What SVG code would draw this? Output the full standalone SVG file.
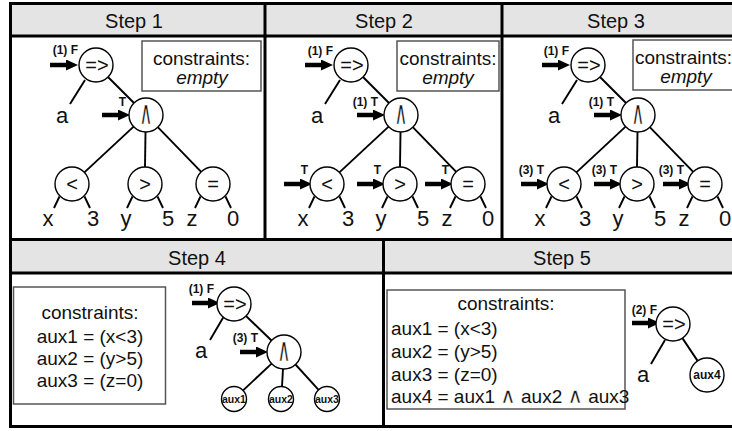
<svg xmlns="http://www.w3.org/2000/svg" width="732" height="431" viewBox="0 0 732 431">
<style>
text{font-family:"Liberation Sans",Arial,Helvetica,sans-serif;fill:#111}
.hdr{font-size:20px;text-anchor:middle}
.ctext{font-size:19px}
.mid{text-anchor:middle}
.it{font-style:italic}
.leaf{font-size:22px;text-anchor:middle}
.lbl{font-size:12px;font-weight:bold;text-anchor:end}
.sym{font-size:20px;text-anchor:middle}
.and{font-size:22px;text-anchor:middle;font-family:"DejaVu Sans","Liberation Sans",sans-serif;stroke:#fff;stroke-width:0.3}
.andi{font-family:"DejaVu Sans","Liberation Sans",sans-serif;font-size:21px;stroke:#fff;stroke-width:0.3}
.aux{font-size:10.5px;font-weight:bold;text-anchor:middle}
.node circle{fill:#fff;stroke:#000;stroke-width:1.4}
.edge{stroke:#000;stroke-width:1.9;fill:none}
.arr{stroke:#000;stroke-width:4.5;fill:none;marker-end:url(#ah)}
.box{fill:#fff;stroke:#555;stroke-width:1.5}
.frame{stroke:#000;stroke-width:3;fill:none}
.hfill{fill:#e4e4e4}
</style>
<defs>
<marker id="ah" markerUnits="userSpaceOnUse" markerWidth="12" markerHeight="11" refX="1" refY="5.5" orient="auto">
<path d="M0,0 L12,5.5 L0,11 z" fill="#000"/>
</marker>
</defs>

<!-- frame -->
<rect class="hfill" x="10" y="3.5" width="730" height="32.5"/>
<rect class="hfill" x="10" y="239.5" width="730" height="33.5"/>
<g class="frame">
<path d="M9,3.5 H740"/>
<path d="M10.5,2 V428"/>
<path d="M9,426.5 H740"/>
<path d="M10,36 H740"/>
<path d="M10,239.5 H740"/>
<path d="M10,273 H740"/>
<path d="M265,3.5 V239.5"/>
<path d="M502,3.5 V239.5"/>
<path d="M383.5,239.5 V426.5"/>
</g>
<text class="hdr" x="134" y="28">Step 1</text>
<text class="hdr" x="384" y="28">Step 2</text>
<text class="hdr" x="616" y="28">Step 3</text>
<text class="hdr" x="197" y="265">Step 4</text>
<text class="hdr" x="562" y="265">Step 5</text>

<!-- constraint boxes -->
<g id="c1">
<rect class="box" x="142" y="41" width="119" height="50"/>
<text class="ctext mid" x="201.5" y="65">constraints:</text>
<text class="ctext mid it" x="202" y="84">empty</text>
</g>
<g id="c2">
<rect class="box" x="397" y="41" width="102" height="50"/>
<text class="ctext mid" x="448" y="65">constraints:</text>
<text class="ctext mid it" x="448" y="84">empty</text>
</g>
<g id="c3">
<rect class="box" x="633" y="40" width="108" height="50"/>
<text class="ctext mid" x="683.5" y="64">constraints:</text>
<text class="ctext mid it" x="686" y="83">empty</text>
</g>
<g id="c4">
<rect class="box" x="13.5" y="287" width="152" height="117"/>
<text class="ctext mid" x="90" y="319">constraints:</text>
<text class="ctext mid" x="90" y="343">aux1 = (x&lt;3)</text>
<text class="ctext mid" x="90" y="365">aux2 = (y&gt;5)</text>
<text class="ctext mid" x="90" y="387">aux3 = (z=0)</text>
</g>
<g id="c5">
<rect class="box" x="387" y="290" width="238" height="119"/>
<text class="ctext mid" x="506" y="310">constraints:</text>
<text class="ctext" x="391" y="335">aux1 = (x&lt;3)</text>
<text class="ctext" x="391" y="358">aux2 = (y&gt;5)</text>
<text class="ctext" x="391" y="381">aux3 = (z=0)</text>
<text class="ctext" x="391" y="403">aux4 = aux1 <tspan class="andi">∧</tspan> aux2 <tspan class="andi">∧</tspan> aux3</text>
</g>

<!-- connectors -->
<g id="connectors">
<g id="edges-s1">
<path class="edge" d="M85,80 L70,104"/>
<path class="edge" d="M108,77 L134,103"/>
<path class="edge" d="M133.6,126.6 L84.4,172.4"/>
<path class="edge" d="M145.5,132 L145,167"/>
<path class="edge" d="M157.8,127.2 L201.2,171.8"/>
<path class="edge" d="M59.5,196.5 L54,208 M84.5,196.5 L90,208"/>
<path class="edge" d="M132.5,196.5 L127,208 M157.5,196.5 L163,208"/>
<path class="edge" d="M200.5,196.5 L195,208 M225.5,196.5 L231,208"/>
</g>
<g id="edges-s2" transform="translate(255,0)">
<path class="edge" d="M85,80 L70,104"/>
<path class="edge" d="M108,77 L134,103"/>
<path class="edge" d="M133.6,126.6 L84.4,172.4"/>
<path class="edge" d="M145.5,132 L145,167"/>
<path class="edge" d="M157.8,127.2 L201.2,171.8"/>
<path class="edge" d="M59.5,196.5 L54,208 M84.5,196.5 L90,208"/>
<path class="edge" d="M132.5,196.5 L127,208 M157.5,196.5 L163,208"/>
<path class="edge" d="M200.5,196.5 L195,208 M225.5,196.5 L231,208"/>
</g>
<g id="edges-s3" transform="translate(492,0)">
<path class="edge" d="M85,80 L70,104"/>
<path class="edge" d="M108,77 L134,103"/>
<path class="edge" d="M133.6,126.6 L84.4,172.4"/>
<path class="edge" d="M145.5,132 L145,167"/>
<path class="edge" d="M157.8,127.2 L201.2,171.8"/>
<path class="edge" d="M59.5,196.5 L54,208 M84.5,196.5 L90,208"/>
<path class="edge" d="M132.5,196.5 L127,208 M157.5,196.5 L163,208"/>
<path class="edge" d="M200.5,196.5 L195,208 M225.5,196.5 L231,208"/>
</g>
<g id="edges-s4">
<path class="edge" d="M223.5,317 L210,340"/>
<path class="edge" d="M246,316 L272,341"/>
<path class="edge" d="M271.6,363.6 L243.1,390.4"/>
<path class="edge" d="M283,369 L282,386.5"/>
<path class="edge" d="M295.5,364.5 L318.6,389.8"/>
</g>
<g id="edges-s5">
<path class="edge" d="M665,340 L651,364"/>
<path class="edge" d="M682.4,338.1 L697.6,360.9"/>
</g>
<g id="arrows">
<path class="arr" d="M50,65 H67"/>
<path class="arr" d="M102,115 H119"/>
<path class="arr" d="M305,65 H322"/>
<path class="arr" d="M357,115 H374"/>
<path class="arr" d="M284,184 H301"/>
<path class="arr" d="M357,184 H374"/>
<path class="arr" d="M425,184 H442"/>
<path class="arr" d="M542,65 H559"/>
<path class="arr" d="M594,115 H611"/>
<path class="arr" d="M521,184 H538"/>
<path class="arr" d="M594,184 H611"/>
<path class="arr" d="M663,184 H680"/>
<path class="arr" d="M192,303 H209"/>
<path class="arr" d="M240,352 H257"/>
<path class="arr" d="M632,323 H649"/>
</g>
</g>

<!-- Step 1 nodes -->
<g id="s1-imp" class="node"><circle cx="96" cy="65" r="17"/><text class="sym" x="97" y="72">=&gt;</text><text class="lbl" x="78" y="54">(1) F</text></g>
<g id="s1-a" class="node"><text class="leaf" x="62" y="123">a</text></g>
<g id="s1-and" class="node"><circle cx="146" cy="115" r="17"/><text class="and" transform="translate(146,123.5) scale(0.8,1.5)">∧</text><text class="lbl" x="126" y="106">T</text></g>
<g id="s1-lt" class="node"><circle cx="72" cy="184" r="17"/><text class="sym" x="72" y="191">&lt;</text><text class="leaf" x="48" y="226">x</text><text class="leaf" x="93" y="226">3</text></g>
<g id="s1-gt" class="node"><circle cx="145" cy="184" r="17"/><text class="sym" x="145" y="191">&gt;</text><text class="leaf" x="126" y="226">y</text><text class="leaf" x="168" y="226">5</text></g>
<g id="s1-eq" class="node"><circle cx="213" cy="184" r="17"/><text class="sym" x="213" y="191">=</text><text class="leaf" x="192" y="226">z</text><text class="leaf" x="233" y="226">0</text></g>

<!-- Step 2 nodes -->
<g id="s2-imp" class="node"><circle cx="351" cy="65" r="17"/><text class="sym" x="352" y="72">=&gt;</text><text class="lbl" x="333" y="55">(1) F</text></g>
<g id="s2-a" class="node"><text class="leaf" x="317" y="123">a</text></g>
<g id="s2-and" class="node"><circle cx="401" cy="115" r="17"/><text class="and" transform="translate(401,123.5) scale(0.8,1.5)">∧</text><text class="lbl" x="378" y="106">(1) T</text></g>
<g id="s2-lt" class="node"><circle cx="327" cy="184" r="17"/><text class="sym" x="327" y="191">&lt;</text><text class="lbl" x="308" y="174">T</text><text class="leaf" x="303" y="226">x</text><text class="leaf" x="348" y="226">3</text></g>
<g id="s2-gt" class="node"><circle cx="400" cy="184" r="17"/><text class="sym" x="400" y="191">&gt;</text><text class="lbl" x="381" y="174">T</text><text class="leaf" x="381" y="226">y</text><text class="leaf" x="423" y="226">5</text></g>
<g id="s2-eq" class="node"><circle cx="468" cy="184" r="17"/><text class="sym" x="468" y="191">=</text><text class="lbl" x="449" y="174">T</text><text class="leaf" x="447" y="226">z</text><text class="leaf" x="488" y="226">0</text></g>

<!-- Step 3 nodes -->
<g id="s3-imp" class="node"><circle cx="588" cy="65" r="17"/><text class="sym" x="589" y="72">=&gt;</text><text class="lbl" x="569" y="55">(1) F</text></g>
<g id="s3-a" class="node"><text class="leaf" x="554" y="123">a</text></g>
<g id="s3-and" class="node"><circle cx="638" cy="115" r="17"/><text class="and" transform="translate(638,123.5) scale(0.8,1.5)">∧</text><text class="lbl" x="614" y="106">(1) T</text></g>
<g id="s3-lt" class="node"><circle cx="564" cy="184" r="17"/><text class="sym" x="564" y="191">&lt;</text><text class="lbl" x="544" y="174">(3) T</text><text class="leaf" x="540" y="226">x</text><text class="leaf" x="585" y="226">3</text></g>
<g id="s3-gt" class="node"><circle cx="637" cy="184" r="17"/><text class="sym" x="637" y="191">&gt;</text><text class="lbl" x="617" y="174">(3) T</text><text class="leaf" x="618" y="226">y</text><text class="leaf" x="660" y="226">5</text></g>
<g id="s3-eq" class="node"><circle cx="705" cy="184" r="17"/><text class="sym" x="705" y="191">=</text><text class="lbl" x="684" y="174">(3) T</text><text class="leaf" x="684" y="226">z</text><text class="leaf" x="725" y="226">0</text></g>

<!-- Step 4 nodes -->
<g id="s4-imp" class="node"><circle cx="234" cy="304" r="17"/><text class="sym" x="235" y="311">=&gt;</text><text class="lbl" x="214" y="293">(1) F</text></g>
<g id="s4-a" class="node"><text class="leaf" x="201" y="358">a</text></g>
<g id="s4-and" class="node"><circle cx="284" cy="352" r="17"/><text class="and" transform="translate(284,360.5) scale(0.8,1.5)">∧</text><text class="lbl" x="258" y="342">(3) T</text></g>
<g id="s4-aux1" class="node"><circle cx="234" cy="399" r="12.5"/><text class="aux" x="234" y="403">aux1</text></g>
<g id="s4-aux2" class="node"><circle cx="281" cy="399" r="12.5"/><text class="aux" x="281" y="403">aux2</text></g>
<g id="s4-aux3" class="node"><circle cx="327" cy="399" r="12.5"/><text class="aux" x="327" y="403">aux3</text></g>

<!-- Step 5 nodes -->
<g id="s5-imp" class="node"><circle cx="673" cy="324" r="17"/><text class="sym" x="674" y="331">=&gt;</text><text class="lbl" x="657" y="314">(2) F</text></g>
<g id="s5-a" class="node"><text class="leaf" x="643" y="382">a</text></g>
<g id="s5-aux4" class="node"><circle cx="707" cy="375" r="17"/><text class="aux" style="font-size:12px" x="707" y="379">aux4</text></g>
</svg>
